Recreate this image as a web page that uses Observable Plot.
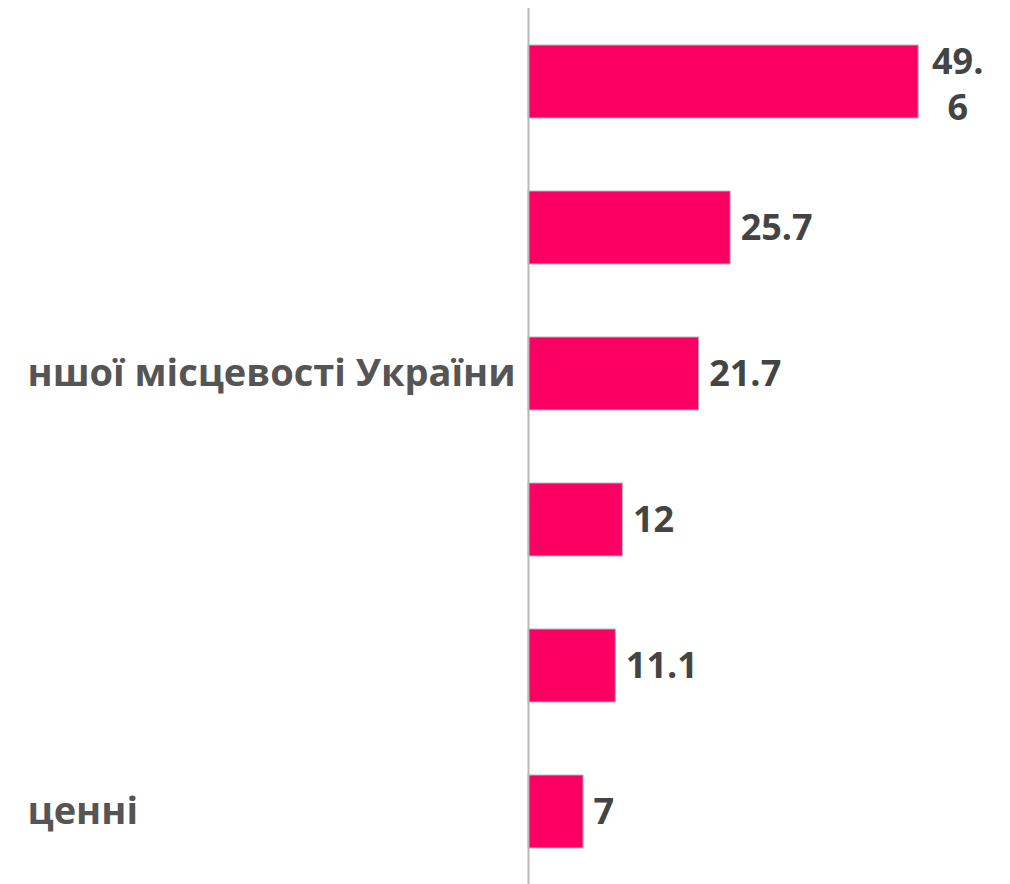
<!DOCTYPE html>
<html>
<head>
<meta charset="utf-8">
<script src="https://cdn.jsdelivr.net/npm/d3@7"></script>
<script src="https://cdn.jsdelivr.net/npm/@observablehq/plot@0.6"></script>
<style>
  html, body { margin: 0; padding: 0; background: #fff; }
  #chart svg { display: block; }
</style>
</head>
<body>
<div id="chart"></div>
<script>
// Category labels (the visible, clipped parts of the original labels)
const labels = ["", "", "ншої місцевості України", "", "", "ценні"];
// Values
const values = [49.6, 25.7, 21.7, 12, 11.1, 7];
// Value label texts (the first wraps onto two lines in the original)
const valueTexts = ["49.\n6", "25.7", "21.7", "12", "11.1", "7"];

const data = values.map((v, i) => ({i, label: labels[i], value: v, text: valueTexts[i], wrapped: valueTexts[i].includes("\n")}));

const font = "'Open Sans', sans-serif";

const chart = Plot.plot({
  width: 1010,
  height: 884,
  marginLeft: 528,
  marginRight: 10,
  marginTop: 8,
  marginBottom: 0,
  style: {fontFamily: font, background: "#fff"},
  x: {domain: [0, 60], axis: null},
  y: {domain: d3.range(values.length), axis: null, paddingInner: 0.5, paddingOuter: 0.25},
  marks: [
    Plot.barX(data, {y: "i", x: "value", fill: "#fb0062", stroke: "#b5b5b5", strokeWidth: 1}),
    Plot.ruleX([0], {stroke: "#b8b8b8", strokeWidth: 2}),
    Plot.text(data, {y: "i", x: 0, text: "label", textAnchor: "start", dx: -501, fontSize: 38, fontWeight: 700, fill: "#555"}),
    Plot.text(data.filter(d => !d.wrapped), {y: "i", x: "value", text: "text", textAnchor: "start", dx: 10, fontSize: 36, fontWeight: 700, fill: "#444"}),
    Plot.text(data.filter(d => d.wrapped), {y: "i", x: "value", text: "text", textAnchor: "middle", dx: 39, lineHeight: 1.3, fontSize: 36, fontWeight: 700, fill: "#444"})
  ]
});
document.getElementById("chart").append(chart);
</script>
</body>
</html>
